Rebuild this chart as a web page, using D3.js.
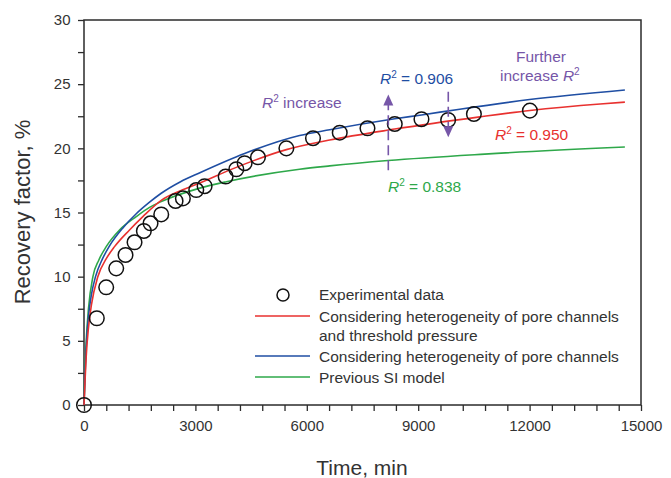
<!DOCTYPE html>
<html><head><meta charset="utf-8">
<script src="https://cdn.jsdelivr.net/npm/d3@7"></script>
<style>
body{margin:0;background:#fff;}
svg{display:block;font-family:"Liberation Sans",Arial,sans-serif;}
</style></head>
<body>
<svg id="c" width="671" height="478"></svg>
<script>
// Experimental data
const expTime = [0, 345, 598, 868, 1118, 1361, 1612, 1792, 2080, 2466, 2663, 3023, 3248, 3814, 4102, 4326, 4685, 5450, 6167, 6887, 7634, 8369, 9088, 9806, 10500, 12008];
const expRF   = [0, 6.76, 9.17, 10.65, 11.69, 12.68, 13.56, 14.16, 14.85, 15.9, 16.1, 16.75, 17.05, 17.8, 18.37, 18.84, 19.3, 20.0, 20.79, 21.22, 21.56, 21.9, 22.27, 22.21, 22.68, 22.94];
// Model curves
const redT   = [0, 30, 60, 120, 200, 372, 600, 822, 1226, 1585, 2080, 2600, 3120, 4000, 5450, 6617, 8369, 10660, 12008, 13900, 14566];
const redV   = [0, 2, 3.8, 6.0, 7.8, 10.0, 11.4, 12.34, 13.64, 14.68, 15.95, 16.7, 17.3, 18.4, 19.9, 20.65, 21.5, 22.45, 22.95, 23.46, 23.6];
const blueT  = [0, 30, 60, 120, 200, 310, 500, 688, 1047, 1407, 1765, 2080, 2600, 3120, 4326, 5806, 6617, 8369, 9088, 10120, 12000, 14566];
const blueV  = [0, 2.5, 4.5, 6.9, 8.6, 10.0, 11.4, 12.4, 13.8, 14.9, 15.8, 16.5, 17.4, 18.1, 19.6, 21.0, 21.45, 22.3, 22.6, 23.05, 23.8, 24.55];
const greenT = [0, 30, 60, 120, 240, 400, 598, 957, 1407, 1765, 2080, 3120, 3833, 5806, 6617, 8189, 10790, 14566];
const greenV = [0, 3, 5.0, 7.5, 10.0, 11.3, 12.34, 13.64, 14.68, 15.4, 15.85, 16.9, 17.4, 18.37, 18.63, 19.05, 19.55, 20.1];
// Axes
const xTicks = [0, 3000, 6000, 9000, 12000, 15000];
const yTicks = [0, 5, 10, 15, 20, 25, 30];
const legendLabels = ["Experimental data", "Considering heterogeneity of pore channels", "and threshold pressure", "Considering heterogeneity of pore channels", "Previous SI model"];

const C = {red:"#e8312f", blue:"#1f4ea3", green:"#2ea84a", purple:"#7656a8", axis:"#2b2b2b", text:"#333"};

const svg = d3.select("#c");
const x = d3.scaleLinear().domain([0, 15000]).range([84, 641]);
const y = d3.scaleLinear().domain([0, 30]).range([405, 20]);

// frame
svg.append("rect").attr("x", x(0)).attr("y", y(30)).attr("width", x(15000)-x(0)).attr("height", y(0)-y(30))
  .attr("fill","none").attr("stroke", C.axis).attr("stroke-width", 1.5);

const xAxis = d3.axisBottom(x).tickValues(d3.range(0, 15001, 600)).tickSize(6)
  .tickFormat(d => xTicks.includes(d) ? d : "");
const gx = svg.append("g").attr("transform", `translate(0,${y(0)})`).call(xAxis);
gx.select(".domain").remove();
gx.selectAll("line").attr("stroke", C.axis).attr("stroke-width", 1.3);
gx.selectAll("text").attr("font-size", 15).attr("fill", C.text).attr("dy", "1.15em").attr("font-family","Liberation Sans, Arial, sans-serif");

const yAxis = d3.axisLeft(y).tickValues(d3.range(0, 30.01, 2.5)).tickSize(6)
  .tickFormat(d => yTicks.includes(d) ? d : "");
const gy = svg.append("g").attr("transform", `translate(${x(0)},0)`).call(yAxis);
gy.select(".domain").remove();
gy.selectAll("line").attr("stroke", C.axis).attr("stroke-width", 1.3);
gy.selectAll("text").attr("font-size", 15).attr("fill", C.text).attr("dx", "-0.3em").attr("font-family","Liberation Sans, Arial, sans-serif");

// axis titles
svg.append("text").attr("x", 362).attr("y", 475).attr("text-anchor","middle")
  .attr("font-size", 21).attr("fill", C.text).text("Time, min");
svg.append("text").attr("transform", "translate(30,212) rotate(-90)").attr("text-anchor","middle")
  .attr("font-size", 22).attr("fill", C.text).text("Recovery factor, %");

// curves
const line = d3.line().x(d => x(d[0])).y(d => y(d[1])).curve(d3.curveMonotoneX);
function drawCurve(T, V, col){
  svg.append("path").datum(T.map((t,i)=>[t, V[i]])).attr("d", line)
    .attr("fill","none").attr("stroke", col).attr("stroke-width", 1.6);
}
drawCurve(greenT, greenV, C.green);
drawCurve(blueT, blueV, C.blue);
drawCurve(redT, redV, C.red);

// data circles
svg.append("g").selectAll("circle").data(expTime.map((t,i)=>[t, expRF[i]])).join("circle")
  .attr("cx", d => x(d[0])).attr("cy", d => y(d[1])).attr("r", 7.3)
  .attr("fill","none").attr("stroke","#111").attr("stroke-width", 1.5);

// dashed arrows
function arrow(t, v0, v1){
  const x0 = x(t), ya = y(v0), yb = y(v1);
  const dir = yb < ya ? -1 : 1;
  svg.append("line").attr("x1", x0).attr("x2", x0).attr("y1", ya).attr("y2", yb - dir*8)
    .attr("stroke", C.purple).attr("stroke-width", 1.6).attr("stroke-dasharray", "10,5");
  svg.append("path").attr("d", `M${x0},${yb} L${x0-5},${yb-dir*11} L${x0+5},${yb-dir*11} Z`).attr("fill", C.purple);
}
arrow(8195, 18.3, 24.2);
arrow(9810, 24.4, 20.86);

// annotations with R^2
function r2(xp, yp, rest, col, anchor){
  const t = svg.append("text").attr("x", xp).attr("y", yp).attr("font-size", 15.5).attr("fill", col)
    .attr("text-anchor", anchor || "start");
  t.append("tspan").attr("font-style","italic").text("R");
  t.append("tspan").attr("font-size", 10).attr("dy", -6).text("2");
  t.append("tspan").attr("dy", 6).text(rest);
  return t;
}
r2(262, 108, " increase", C.purple);
r2(380, 84, " = 0.906", C.blue);
r2(495, 140, " = 0.950", C.red);
r2(388, 192, " = 0.838", C.green);
svg.append("text").attr("x", 541).attr("y", 62).attr("text-anchor","middle").attr("font-size", 15.5)
  .attr("fill", C.purple).text("Further");
{
  const t = svg.append("text").attr("x", 500).attr("y", 81).attr("font-size", 15.5).attr("fill", C.purple);
  t.append("tspan").text("increase ");
  t.append("tspan").attr("font-style","italic").text("R");
  t.append("tspan").attr("font-size", 10).attr("dy", -6).text("2");
}

// legend
const lg = svg.append("g");
lg.append("circle").attr("cx", 283).attr("cy", 295).attr("r", 6).attr("fill","none").attr("stroke","#111").attr("stroke-width",1.5);
[[316, C.red],[356, C.blue],[377, C.green]].forEach(([yy,c]) => {
  lg.append("line").attr("x1",255).attr("x2",310).attr("y1",yy).attr("y2",yy).attr("stroke",c).attr("stroke-width",1.6);
});
const legY = [295, 316.5, 336, 357, 377.5];
legendLabels.forEach((s,i) => {
  lg.append("text").attr("x", 319).attr("y", legY[i]).attr("dy","0.35em").attr("font-size", 15.5).attr("fill", C.text).text(s);
});
</script>
</body></html>
